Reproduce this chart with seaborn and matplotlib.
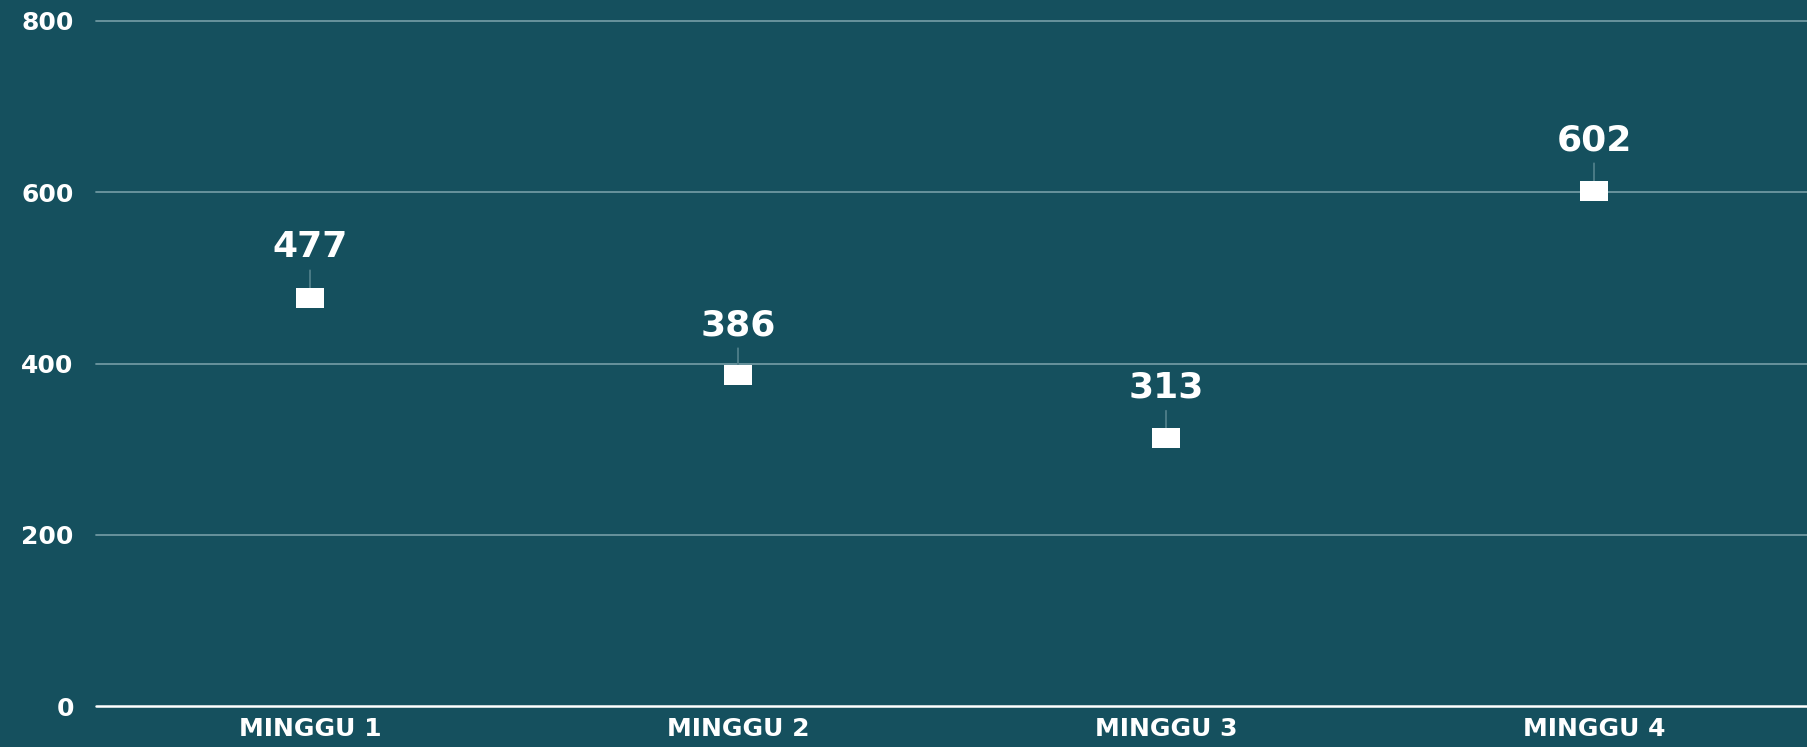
import numpy as np
import pandas as pd
import matplotlib
matplotlib.use('Agg')
import matplotlib.pyplot as plt
import seaborn as sns

# data
minggu = ['MINGGU 1', 'MINGGU 2', 'MINGGU 3', 'MINGGU 4']
nilai = [477, 386, 313, 602]
y_ticks = [0, 200, 400, 600, 800]

bg = '#15505e'
grid_col = '#6e98a1'

sns.set_theme(style='white')
plt.rcParams['font.family'] = ['DejaVu Sans']

df = pd.DataFrame({'minggu': minggu, 'nilai': nilai})

fig = plt.figure(figsize=(18.08, 7.47), dpi=100, facecolor=bg)
ax = fig.add_axes([96 / 1808, 41 / 747, 1 - 96 / 1808, (706 - 21) / 747])
ax.set_facecolor(bg)

rect = [(-1, -0.7), (1, -0.7), (1, 0.7), (-1, 0.7), (-1, -0.7)]
sns.scatterplot(data=df, x='minggu', y='nilai', marker=rect, s=400,
                color='white', linewidth=0, ax=ax, zorder=5)

# label + garis penghubung
for i, v in enumerate(nilai):
    ax.annotate(str(v), xy=(i, v), xytext=(0, 29), textcoords='offset points',
                ha='center', va='baseline', color='white', fontsize=26,
                fontweight='bold',
                arrowprops=dict(arrowstyle='-', color='#4f7f8a', lw=1.3,
                                shrinkA=2, shrinkB=7))

ax.set_xlim(-0.5, 3.5)
ax.set_ylim(0, 800)
ax.set_yticks(y_ticks)
ax.set_yticklabels([str(t) for t in y_ticks])
for t in y_ticks[1:]:
    ax.axhline(t, color=grid_col, lw=1.3, zorder=1, clip_on=False)
ax.axhline(0, color='white', lw=1.8, zorder=2, clip_on=False)

for s in ax.spines.values():
    s.set_visible(False)
ax.tick_params(axis='y', length=0, pad=16, labelsize=18, labelcolor='white')
ax.tick_params(axis='x', length=0, pad=8, labelsize=18, labelcolor='white')
for lab in ax.get_xticklabels() + ax.get_yticklabels():
    lab.set_fontweight('bold')
ax.set_xlabel('')
ax.set_ylabel('')

fig.savefig('out.png', dpi=100, facecolor=bg)
